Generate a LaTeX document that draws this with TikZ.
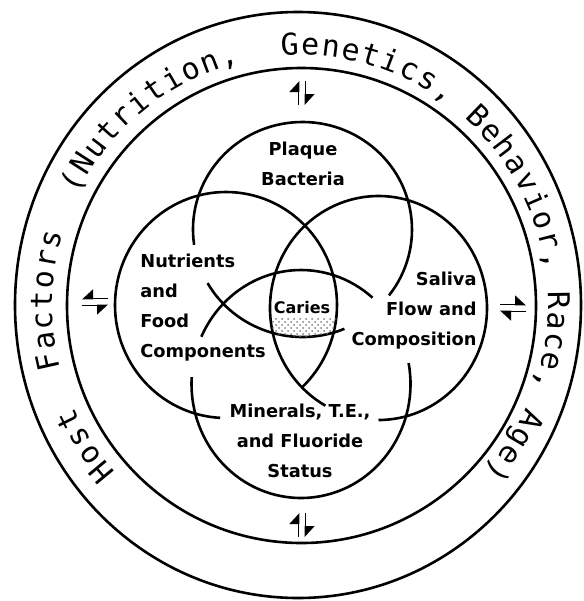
\documentclass[tikz,border=0pt]{standalone}
\usepackage{fontspec}
\setmainfont{DejaVu Sans}
\newfontfamily\ringfont{DejaVu Sans Mono}
\usetikzlibrary{arrows.meta,decorations.text,patterns}

\begin{document}
\begin{tikzpicture}[
    x=0.5pt, y=-0.5pt,
    ring/.style={line width=1.3pt},
    venn/.style={line width=1.3pt},
    lbl/.style={inner sep=0pt,
                font={\bfseries\fontsize{8.9}{15}\selectfont\lineskiplimit=-50pt}},
    harp/.style={line width=0.9pt, -{Triangle[left, length=5pt, width=9pt]}},
    harpr/.style={line width=0.9pt, -{Triangle[right, length=5pt, width=9pt]}},
]
\useasboundingbox (0,0) rectangle (584,601);

% centres
\coordinate (ctr) at (300,305);
\coordinate (plq) at (302.5,229.5);
\coordinate (nut) at (226,305);
\coordinate (sal) at (378.5,308);
\coordinate (mnr) at (301,384);

% outer rings
\draw[ring] (298,305) ellipse [x radius=283, y radius=293];
\draw[ring] (301.5,305.5) ellipse [x radius=234.5, y radius=237.5];

% the four factors, broken where the labels sit
\draw[venn] (plq) ++(171.8:109.5 and 107.5)
    arc [start angle=171.8, end angle=397.8, x radius=109.5, y radius=107.5];
\draw[venn] (plq) ++(67.5:109.5 and 107.5)
    arc [start angle=67.5, end angle=150.1, x radius=109.5, y radius=107.5];
\draw[venn] (nut) ++(93:111 and 113)
    arc [start angle=93, end angle=407, x radius=111, y radius=113];
\draw[venn] (sal) ++(119.3:108.5 and 112)
    arc [start angle=119.3, end angle=450, x radius=108.5, y radius=112];
\draw[venn] (mnr) ++(204.5:109.5 and 114)
    arc [start angle=204.5, end angle=310.8, x radius=109.5, y radius=114];
\draw[venn] (mnr) ++(349.4:109.5 and 114)
    arc [start angle=349.4, end angle=543.5, x radius=109.5, y radius=114];

% shaded part of the centre
\begin{scope}
  \clip (plq) ellipse [x radius=109.5, y radius=107.5];
  \clip (nut) ellipse [x radius=111, y radius=113];
  \clip (sal) ellipse [x radius=108.5, y radius=112];
  \fill[pattern=crosshatch dots, pattern color=gray] (255,318) rectangle (350,350);
\end{scope}

% labels
\node[lbl, align=center] (plaque) at (303,164) {Plaque\\Bacteria};
\node[lbl, align=left, anchor=west] (nutr) at (140,308)
    {Nutrients\\and\\Food\\Components};
\node[lbl, align=right, anchor=east] (saliva) at (477,311)
    {Saliva\\Flow and\\Composition};
\node[lbl, align=center] (miner) at (300,441)
    {Minerals, T.E.,\\and Fluoride\\Status};
\node[font=\bfseries\fontsize{8}{10}\selectfont, inner sep=1pt] (caries) at (302,308) {Caries};

% host factors round the ring
\path[decorate, decoration={text along path, text align={fit to path},
      text={|\ringfont\fontsize{15}{15}\selectfont|Host{ }{ }Factors{ }{ }(Nutrition,{ }{ }Genetics, Behavior, Race, Age)}}]
    (ctr) ++(138:248 and 250) arc [start angle=138, end angle=402, x radius=248, y radius=250];

% exchange arrows
\coordinate (tarr) at (302,93);
\coordinate (barr) at (302,525);
\coordinate (larr) at (95,302);
\coordinate (rarr) at (513,308);
\draw[harp] (tarr) ++(-3.5,12) -- ++(0,-24);
\draw[harp] (tarr) ++(3.5,-12) -- ++(0,24);
\draw[harp] (barr) ++(-3.5,12) -- ++(0,-24);
\draw[harp] (barr) ++(3.5,-12) -- ++(0,24);
\draw[harp] (rarr) ++(-13,-3.5) -- ++(26,0);
\draw[harp] (rarr) ++(13,3.5) -- ++(-26,0);
\draw[harpr] (larr) ++(13,-3.5) -- ++(-26,0);
\draw[harpr] (larr) ++(-13,3.5) -- ++(26,0);
\end{tikzpicture}
\end{document}
